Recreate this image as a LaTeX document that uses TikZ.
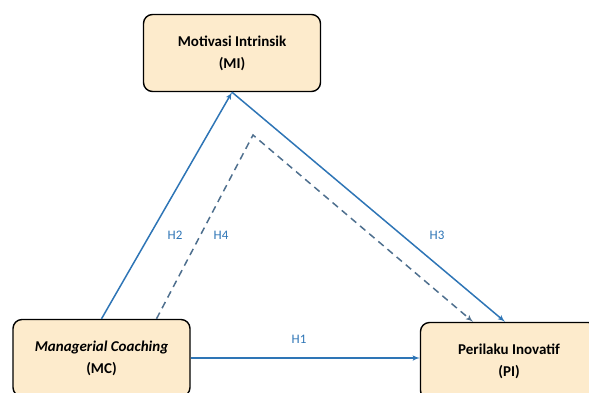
\documentclass[tikz,border=0pt]{standalone}
\usepackage{fontspec}
\setsansfont{Carlito}
\usetikzlibrary{arrows}

\definecolor{boxfill}{HTML}{FDEBCC}
\definecolor{linkblue}{HTML}{2E75B6}
\definecolor{dashgray}{HTML}{4E6F8E}

\begin{document}
\begin{tikzpicture}[x=1pt,y=-1pt]
\tikzset{var/.style = {shape=rectangle,rounded corners=9pt,draw,line width=1.4pt,fill=boxfill,
  minimum width=177pt,minimum height=77pt,align=center,font=\sffamily\bfseries\fontsize{15}{22}\selectfont}}
\tikzset{edge/.style = {->,> = latex',line width=1.5pt,draw=linkblue}}
\tikzset{hyp/.style = {text=linkblue,font=\sffamily\fontsize{13}{15}\selectfont}}

\useasboundingbox (0,0) rectangle (589,392);
\clip (0,0) rectangle (589,392);

\node[var] (mi) at (232,53) {Motivasi Intrinsik\\(MI)};
\node[var] (mc) at (101.5,358) {\textit{Managerial Coaching}\\(MC)};
\node[var] (pi) at (509,361) {Perilaku Inovatif\\(PI)};
\coordinate (peak) at (253,135);

%edges
\draw[edge] (mc.north) to (mi.south);
\draw[edge] (mi.south) to ([xshift=-4pt]pi.north);
\draw[edge] (mc.east) to (mc.east -| pi.west);
\draw[edge,draw=dashgray,dashed,dash pattern=on 7pt off 5pt] ([xshift=55pt]mc.north) -- (peak) -- ([xshift=-36pt]pi.north);

%labels
\node[hyp] (h1) at (299,339) {H1};
\node[hyp] (h2) at (175,235) {H2};
\node[hyp] (h4) at (221,235) {H4};
\node[hyp] (h3) at (437,235) {H3};

\end{tikzpicture}
\end{document}
